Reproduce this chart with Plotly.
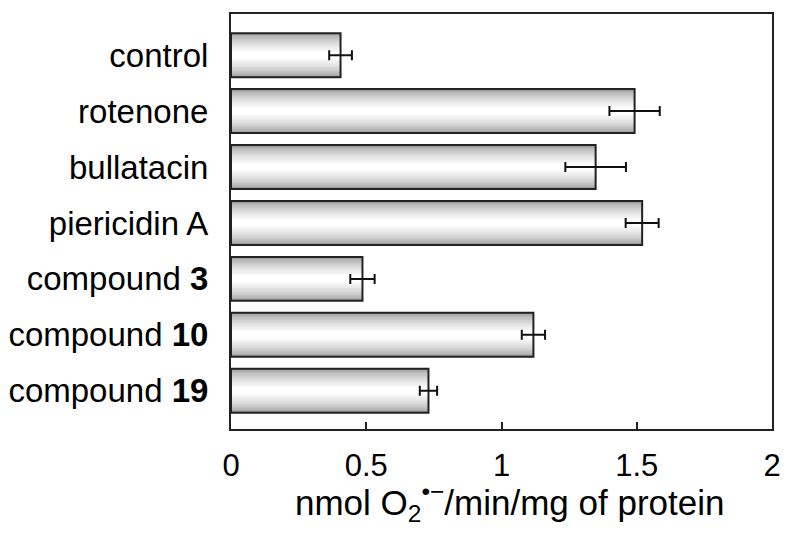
import plotly.graph_objects as go

categories = ["control", "rotenone", "bullatacin", "piericidin A",
              "compound <b>3</b>", "compound <b>10</b>", "compound <b>19</b>"]
values = [0.405, 1.492, 1.348, 1.520, 0.486, 1.118, 0.730]
errors = [0.042, 0.093, 0.112, 0.061, 0.045, 0.043, 0.032]
x_ticks = [0, 0.5, 1, 1.5, 2]
x_ticklabels = ["0", "0.5", "1", "1.5", "2"]
x_title = "nmol O<sub>2</sub><sup>•−</sup>/min/mg of protein"

FONT = "Liberation Sans, Arial, sans-serif"
BAR_W = 0.786
N_LAYERS = 14

fig = go.Figure()
# gradient layers (gray at edges, white in middle)
for i in range(N_LAYERS):
    frac = i / (N_LAYERS - 1)
    w = BAR_W * (1 - 0.85 * frac)
    shade = int(150 + (255 - 150) * frac ** 0.6)
    fig.add_trace(go.Bar(
        y=categories, x=values, orientation="h",
        width=[w] * len(values),
        marker=dict(color=f"rgb({shade},{shade},{shade})", line=dict(width=0)),
        hoverinfo="skip", showlegend=False,
    ))
# outline + error bars
fig.add_trace(go.Bar(
    y=categories, x=values, orientation="h",
    width=[BAR_W] * len(values),
    marker=dict(color="rgba(0,0,0,0)", line=dict(color="#222", width=2)),
    error_x=dict(type="data", array=errors, visible=True, color="#111",
                 thickness=2, width=5),
    showlegend=False,
))

fig.add_annotation(
    text=x_title, xref="paper", yref="paper", x=0.515, y=-0.176,
    xanchor="center", yanchor="middle", showarrow=False,
    font=dict(size=35, family=FONT, color="black"),
)

fig.update_layout(
    width=787, height=533,
    barmode="overlay",
    plot_bgcolor="white", paper_bgcolor="white",
    margin=dict(l=231, r=15, t=14, b=104),
    font=dict(family=FONT, size=30, color="black"),
    xaxis=dict(
        range=[0, 2], tickvals=x_ticks, ticktext=x_ticklabels,
        ticks="inside", ticklen=7, tickwidth=2, tickcolor="#222",
        showline=True, linecolor="#222", linewidth=2, mirror=True,
        showgrid=False, zeroline=False, automargin=False,
        tickfont=dict(size=31, family=FONT),
        ticklabelstandoff=8,
    ),
    yaxis=dict(
        type="category", categoryorder="array", categoryarray=categories,
        range=[6.684, -0.736],
        showline=True, linecolor="#222", linewidth=2, mirror=True,
        showgrid=False, zeroline=False, ticks="", automargin=False,
        tickfont=dict(size=33, family=FONT),
        ticklabelstandoff=14,
    ),
)

fig.write_html("out.html",
               config={"displayModeBar": False},
               post_script="document.body.style.margin='0';document.body.style.overflow='hidden';")
